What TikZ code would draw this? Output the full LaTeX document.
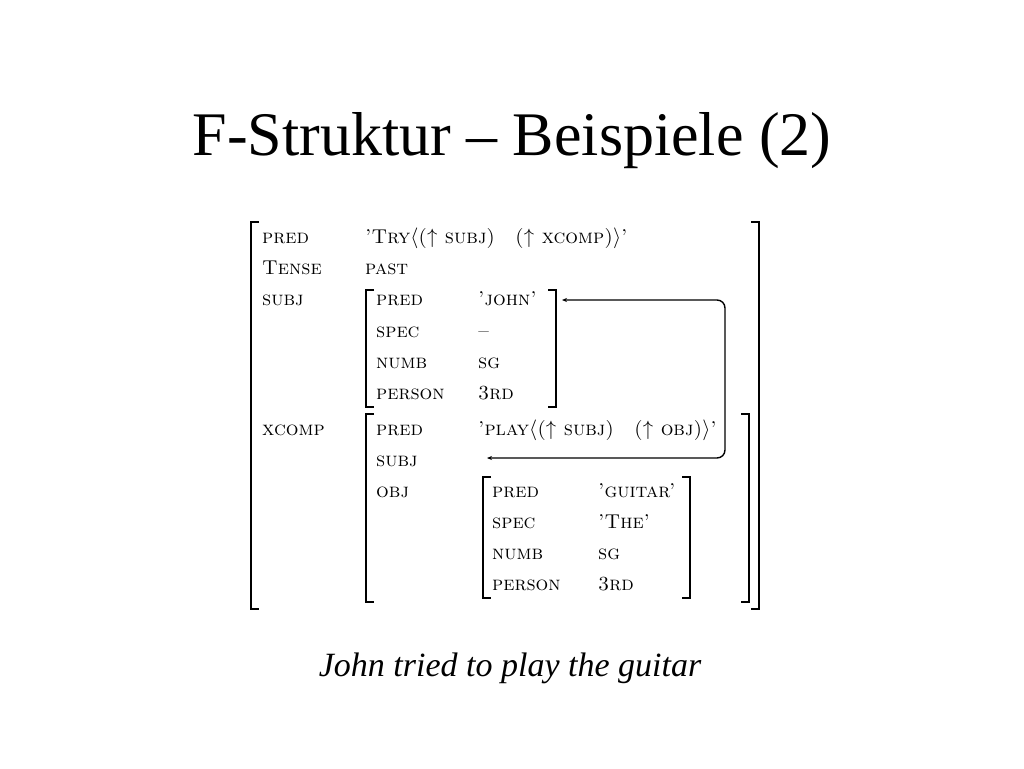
\documentclass[tikz,border=0pt]{standalone}
\usepackage{fontspec}
\newfontfamily\timesfont[Ligatures=TeX]{Liberation Serif}
\usetikzlibrary{arrows.meta}
\begin{document}
\begin{tikzpicture}[x=1pt,y=-1pt,
    every node/.style={inner sep=0pt,anchor=base west,font=\fontsize{20}{24}\selectfont\scshape},
    brack/.style={line width=1.2pt},
    link/.style={line width=1.4pt,rounded corners=8pt,{Stealth[length=5pt,width=4pt]}-{Stealth[length=5pt,width=4pt]}}]
  \useasboundingbox (0,0) rectangle (1024,768);
  \node[anchor=base,font=\timesfont\fontsize{62}{74}\selectfont] (title) at (512,155) {F-Struktur -- Beispiele (2)};
  % outer f-structure
  \foreach \a/\y [count=\i] in {pred/243,Tense/274,subj/305,xcomp/435}
    \node (f\i) at (262,\y) {\a};
  \node (ftry) at (365,243) {'Try$\langle$($\uparrow$ subj)\quad($\uparrow$ xcomp)$\rangle$'};
  \node (fpast) at (365,274) {past};
  % subj
  \foreach \a/\v/\y [count=\i] in {pred/'john'/305,spec/--/337,numb/sg/368,person/3rd/399}{
    \node (sa\i) at (376,\y) {\a};
    \node (sv\i) at (478,\y) {\v};
  }
  % xcomp
  \foreach \a/\y [count=\i] in {pred/435,subj/466,obj/497}
    \node (xa\i) at (376,\y) {\a};
  \node (xplay) at (478,435) {'play$\langle$($\uparrow$ subj)\quad($\uparrow$ obj)$\rangle$'};
  % obj
  \foreach \a/\v/\y [count=\i] in {pred/'guitar'/497,spec/'The'/528,numb/sg/559,person/3rd/590}{
    \node (oa\i) at (492,\y) {\a};
    \node (ov\i) at (598,\y) {\v};
  }
  % brackets
  \foreach \l/\r/\t/\b in {251/759/222/609,366/556/290/407,366/749/414/602,483/690/477/598}{
    \draw[brack] (\l+8,\t) -- (\l,\t) -- (\l,\b) -- (\l+8,\b);
    \draw[brack] (\r-8,\t) -- (\r,\t) -- (\r,\b) -- (\r-8,\b);
  }
  \draw[line width=2pt] (751,609) -- (759,609) -- (759,222) -- (751,222);
  % structure sharing
  \coordinate (jtop) at (562,300);
  \coordinate (xsub) at (487,458);
  \draw[link] (jtop) -- (725,300) -- (725,458) -- (xsub);
  \node[anchor=base,font=\timesfont\itshape\fontsize{34}{40}\selectfont] (caption) at (510,676) {John tried to play the guitar};
\end{tikzpicture}
\end{document}
